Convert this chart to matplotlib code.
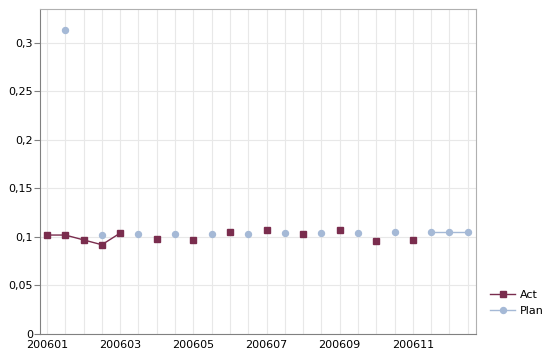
import matplotlib.pyplot as plt
from matplotlib.ticker import FuncFormatter
import numpy as np

# 24 periods, label every 4th
periods = list(range(24))
tick_labels = ['200601', '200603', '200605', '200607', '200609', '200611']
tick_pos = [0, 4, 8, 12, 16, 20]

nan = np.nan
act = [0.102, 0.102, 0.097, 0.092, 0.104, nan, 0.098, nan, 0.097, nan, 0.105, nan,
       0.107, nan, 0.103, nan, 0.107, nan, 0.096, nan, 0.097, nan, nan, nan]
plan = [nan, 0.313, nan, 0.102, nan, 0.103, nan, 0.103, nan, 0.103, nan, 0.103,
        nan, 0.104, nan, 0.104, nan, 0.104, nan, 0.105, nan, 0.105, 0.105, 0.105]

act_color = '#7a2d4e'
plan_color = '#a5b9d6'

fig = plt.figure(figsize=(5.5, 3.55), dpi=100)
ax = fig.add_axes([40 / 550, 21 / 355, 436 / 550, 325 / 355])

ax.plot(periods, act, color=act_color, marker='s', markersize=4.3, lw=1, label='Act', zorder=3)
ax.plot(periods, plan, color=plan_color, marker='o', markersize=4.3, lw=1, label='Plan', zorder=3)

ax.set_xlim(-0.38, 23.45)
ax.set_ylim(0, 0.335)
ax.set_yticks([0, 0.05, 0.1, 0.15, 0.2, 0.25, 0.3])
ax.yaxis.set_major_formatter(FuncFormatter(lambda v, p: ('%g' % round(v, 2)).replace('.', ',')))
ax.set_xticks(periods, minor=True)
ax.set_xticks(tick_pos)
ax.set_xticklabels(tick_labels)

ax.grid(True, which='minor', axis='x', color='#e8e8e8', lw=0.8)
ax.grid(True, which='major', axis='both', color='#e8e8e8', lw=0.8)
ax.set_axisbelow(True)

for s in ['left', 'bottom']:
    ax.spines[s].set_color('#808080')
for s in ['top', 'right']:
    ax.spines[s].set_color('#b0b0b0')
ax.tick_params(axis='y', direction='out', length=4, color='#808080', labelsize=8, pad=1)
ax.tick_params(axis='x', which='both', length=0, labelsize=8, pad=4)

leg = ax.legend(loc='center left', bbox_to_anchor=(1.01, 0.095), frameon=False,
                fontsize=8, handlelength=2.2, handletextpad=0.5, labelspacing=0.5)

fig.savefig('out.png', dpi=100)
